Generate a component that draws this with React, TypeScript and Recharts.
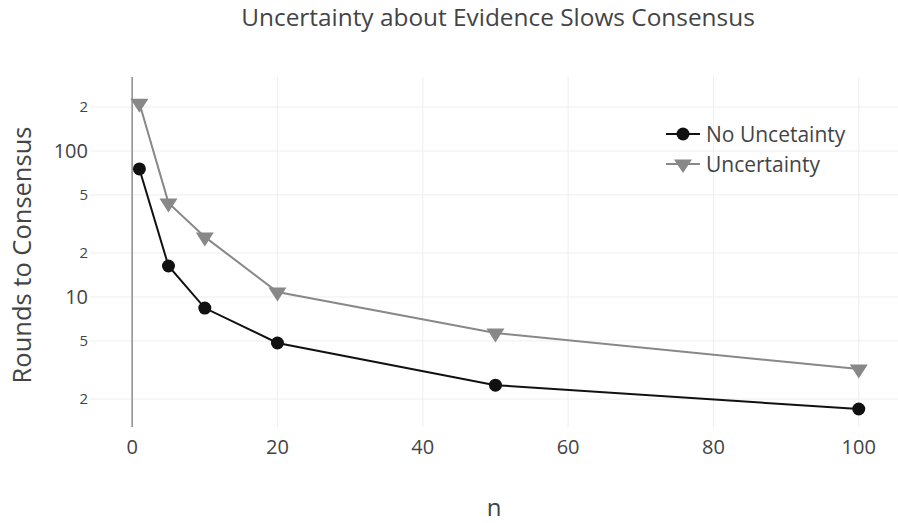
import { Line, LineChart, ReferenceLine, XAxis, YAxis } from 'recharts';

const nValues = [1, 5, 10, 20, 50, 100];
const noUncertainty = [75.3, 16.3, 8.4, 4.84, 2.49, 1.71];
const uncertainty = [212, 44.1, 25.8, 10.8, 5.67, 3.21];

const xTicks = [0, 20, 40, 60, 80, 100];
const yTicks = [2, 5, 10, 20, 50, 100, 200];

const data = nValues.map((n, i) => ({ n, none: noUncertainty[i], unc: uncertainty[i] }));

const FONT = '"Open Sans", sans-serif';
const TEXT = '#444';
const BLACK = '#111';
const GRAY = '#888';

function TriangleDown(props: any) {
  const { cx, cy, fill } = props;
  if (cx == null || cy == null) return null;
  return <path d={`M${cx - 9},${cy - 4.5} L${cx + 9},${cy - 4.5} L${cx},${cy + 9.5} Z`} fill={fill} />;
}

function YTick(props: any) {
  const { x, y, payload } = props;
  const v = payload.value;
  const major = v === 10 || v === 100;
  const label = major ? String(v) : String(v).charAt(0);
  return (
    <text x={x} y={y} dy="0.35em" textAnchor="end" fill={TEXT} fontSize={major ? 20 : 15} fontFamily={FONT}>
      {label}
    </text>
  );
}

const legendItems = [
  { name: 'No Uncetainty', color: BLACK, shape: 'circle' },
  { name: 'Uncertainty', color: GRAY, shape: 'tri' },
];

function LegendBox() {
  return (
    <div style={{ position: 'absolute', left: 666, top: 119, fontFamily: FONT, fontSize: 21, color: TEXT }}>
      {legendItems.map((it) => (
        <div key={it.name} style={{ display: 'flex', alignItems: 'center', height: 30 }}>
          <svg width={38} height={20} style={{ marginRight: 2 }}>
            <line x1={0} y1={10} x2={34} y2={10} stroke={it.color} strokeWidth={2} />
            {it.shape === 'circle' ? (
              <circle cx={17} cy={10} r={6.5} fill={it.color} />
            ) : (
              <path d="M8,5.5 L26,5.5 L17,19 Z" fill={it.color} />
            )}
          </svg>
          <span>{it.name}</span>
        </div>
      ))}
    </div>
  );
}

export default function App() {
  return (
    <div style={{ position: 'absolute', left: 0, top: 0, width: 898, height: 523, background: '#fff', fontFamily: FONT }}>
      <div style={{ position: 'absolute', left: 0, width: 898, top: 0, textAlign: 'center', fontSize: 24.4, color: TEXT, paddingLeft: 98, boxSizing: 'border-box' }}>
        Uncertainty about Evidence Slows Consensus
      </div>
      <LineChart width={898} height={523} data={data} margin={{ top: 77, right: 0, bottom: 66, left: 0 }}>
        <XAxis
          dataKey="n"
          type="number"
          domain={[-5.8, 105.4]}
          allowDataOverflow
          ticks={xTicks}
          axisLine={false}
          tickLine={false}
          tickSize={0}
          tickMargin={13}
          height={30}
          tick={{ fill: TEXT, fontSize: 20, fontFamily: FONT }}
        />
        <YAxis
          type="number"
          scale="log"
          domain={[1.287, 321]}
          allowDataOverflow
          ticks={yTicks}
          axisLine={false}
          tickLine={false}
          tickSize={0}
          tickMargin={2}
          width={90}
          tick={<YTick />}
        />
        {yTicks.map((t) => (
          <ReferenceLine key={`y${t}`} y={t} stroke="#eee" strokeWidth={1} />
        ))}
        {xTicks.filter((t) => t !== 0).map((t) => (
          <ReferenceLine key={`x${t}`} x={t} stroke="#eee" strokeWidth={1} />
        ))}
        <ReferenceLine x={0} stroke="#8c8c8c" strokeWidth={1.5} />
        <Line
          dataKey="unc"
          name="Uncertainty"
          stroke={GRAY}
          strokeWidth={2}
          dot={<TriangleDown fill={GRAY} />}
          isAnimationActive={false}
        />
        <Line
          dataKey="none"
          name="No Uncetainty"
          stroke={BLACK}
          strokeWidth={2}
          dot={{ r: 6.5, fill: BLACK, stroke: 'none' }}
          isAnimationActive={false}
        />
      </LineChart>
      <LegendBox />
      <div style={{ position: 'absolute', left: 444, width: 100, top: 492, textAlign: 'center', fontSize: 24, lineHeight: '30px', color: TEXT }}>n</div>
      <div
        style={{
          position: 'absolute',
          left: 21,
          top: 255,
          transform: 'translate(-50%, -50%) rotate(-90deg)',
          whiteSpace: 'nowrap',
          fontSize: 25.5,
          color: TEXT,
        }}
      >
        Rounds to Consensus
      </div>
    </div>
  );
}
